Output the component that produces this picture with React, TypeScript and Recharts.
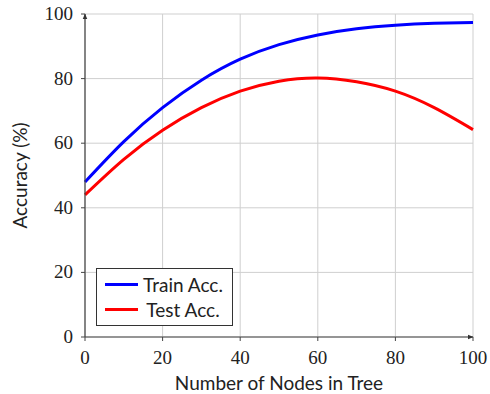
import React from 'react';
import { LineChart, Line, XAxis, YAxis, CartesianGrid, Legend } from 'recharts';

const nodes = [0, 10, 20, 30, 40, 50, 60, 70, 80, 90, 100];
const trainAcc = [48, 60.5, 71, 79.5, 86.0, 90.5, 93.5, 95.4, 96.5, 97.1, 97.4];
const testAcc = [44, 55.0, 64, 71, 76.1, 79.2, 80.2, 79.0, 76.1, 71, 64.2];
const xTicks = [0, 20, 40, 60, 80, 100];
const yTicks = [0, 20, 40, 60, 80, 100];
const seriesNames = ['Train Acc.', 'Test Acc.'];

const data = nodes.map((n, i) => ({ n, train: trainAcc[i], test: testAcc[i] }));

const sans = 'Lato, "Open Sans", sans-serif';
const serif = "'Liberation Serif', serif";

const LegendBox = (props: any) => {
  const payload = [...(props.payload || [])].sort(
    (a: any, b: any) => seriesNames.indexOf(a.value) - seriesNames.indexOf(b.value)
  );
  return (
    <div
      style={{
        border: '1px solid #333',
        background: '#fff',
        width: 135,
        height: 56,
        boxSizing: 'content-box',
        fontFamily: sans,
        fontSize: 19,
        color: '#222',
        display: 'flex',
        flexDirection: 'column',
        justifyContent: 'center',
        gap: 2,
      }}
    >
      {payload.map((p: any) => (
        <div key={p.value} style={{ display: 'flex', alignItems: 'center', height: 23 }}>
          <div style={{ marginLeft: 8, width: 33, height: 3, background: p.color }} />
          <div style={{ flex: 1, textAlign: 'center', marginRight: 4 }}>{p.value}</div>
        </div>
      ))}
    </div>
  );
};

const XTick = (props: any) => {
  const { x, y, payload } = props;
  return (
    <text x={x} y={y} dy={14} textAnchor="middle" fill="#222" fontFamily={serif} fontSize={19}>
      {payload.value}
    </text>
  );
};

const YTick = (props: any) => {
  const { x, y, payload } = props;
  return (
    <text x={x} y={y} dy={6} textAnchor="end" fill="#222" fontFamily={serif} fontSize={19}>
      {payload.value}
    </text>
  );
};

export default function App() {
  return (
    <div style={{ position: 'absolute', left: 0, top: 0, width: 490, height: 394, background: '#fff' }}>
      <svg width={0} height={0} style={{ position: 'absolute' }}>
        <defs>
          <marker id="arr" viewBox="0 0 10 10" refX="9" refY="5" markerWidth="6" markerHeight="6" orient="auto-start-reverse" markerUnits="userSpaceOnUse">
            <path d="M0,1 L10,5 L0,9 Z" fill="#333" />
          </marker>
        </defs>
      </svg>
      <LineChart width={490} height={394} data={data} margin={{ top: 14, right: 17, left: 25, bottom: 27 }}>
        <CartesianGrid stroke="#cfcfcf" strokeWidth={1} />
        <XAxis
          dataKey="n"
          type="number"
          domain={[0, 100]}
          ticks={xTicks}
          height={30}
          tickSize={4}
          tickMargin={9}
          stroke="#444"
          axisLine={{ stroke: '#444', strokeWidth: 1.2, markerEnd: 'url(#arr)' }}
          tick={<XTick />}
          label={{ value: 'Number of Nodes in Tree', position: 'bottom', offset: 10, fill: '#222', fontFamily: sans, fontSize: 19 }}
        />
        <YAxis
          type="number"
          domain={[0, 100]}
          ticks={yTicks}
          width={60}
          tickSize={4}
          tickMargin={8}
          stroke="#444"
          axisLine={{ stroke: '#444', strokeWidth: 1.2, markerStart: 'url(#arr)' }}
          tick={<YTick />}
          label={{ value: 'Accuracy (%)', angle: -90, position: 'insideLeft', offset: -5, fill: '#222', fontFamily: sans, fontSize: 19, style: { textAnchor: 'middle' } }}
        />
        <Legend
          layout="vertical"
          align="center"
          verticalAlign="middle"
          content={LegendBox}
          wrapperStyle={{ left: 96, top: 268, width: 137 }}
        />
        <Line type="natural" dataKey="train" name={seriesNames[0]} stroke="#0000ff" strokeWidth={3} dot={false} isAnimationActive={false} />
        <Line type="natural" dataKey="test" name={seriesNames[1]} stroke="#ff0000" strokeWidth={3} dot={false} isAnimationActive={false} />
      </LineChart>
    </div>
  );
}
